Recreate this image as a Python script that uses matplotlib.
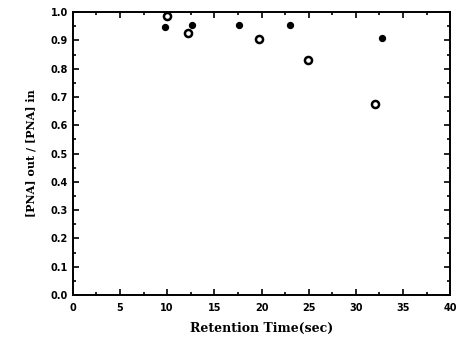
import matplotlib
matplotlib.use("Agg")
import matplotlib.pyplot as plt
from matplotlib.ticker import MultipleLocator

# --- Datos ---
t_lleno = [9.8, 12.6, 17.6, 23.0, 32.8]
r_lleno = [0.947, 0.954, 0.953, 0.953, 0.907]

t_hueco = [10.0, 12.2, 19.7, 24.9, 32.0]
r_hueco = [0.985, 0.925, 0.905, 0.830, 0.674]

fig = plt.figure(figsize=(4.58, 3.55), dpi=100)
ax = fig.add_axes([0.159, 0.169, 0.824, 0.797])

ax.scatter(t_lleno, r_lleno, s=18, color="black", zorder=3)
ax.scatter(t_hueco, r_hueco, s=26, facecolors="white", edgecolors="black",
           linewidths=1.8, zorder=3)

ax.set_xlim(0, 40)
ax.set_ylim(0, 1.0)
ax.xaxis.set_major_locator(MultipleLocator(5))
ax.xaxis.set_minor_locator(MultipleLocator(2.5))
ax.yaxis.set_major_locator(MultipleLocator(0.1))
ax.yaxis.set_minor_locator(MultipleLocator(0.05))
ax.yaxis.set_major_formatter(lambda v, p: f"{v:.1f}")

ax.tick_params(which="both", direction="in", top=True, right=True,
               labelsize=7, width=1.2)
ax.tick_params(which="major", length=4)
ax.tick_params(which="minor", length=2)
ax.tick_params(axis="x", pad=6)
for lab in ax.get_xticklabels() + ax.get_yticklabels():
    lab.set_fontweight("bold")
    lab.set_family("DejaVu Sans")

for s in ax.spines.values():
    s.set_linewidth(1.4)

ax.set_xlabel("Retention Time(sec)", family="DejaVu Serif", fontsize=9,
              fontweight="bold", labelpad=6)
ax.set_ylabel("[PNA] out / [PNA] in", family="DejaVu Serif", fontsize=8,
              fontweight="bold", labelpad=10)

fig.savefig("out.png", dpi=100)
